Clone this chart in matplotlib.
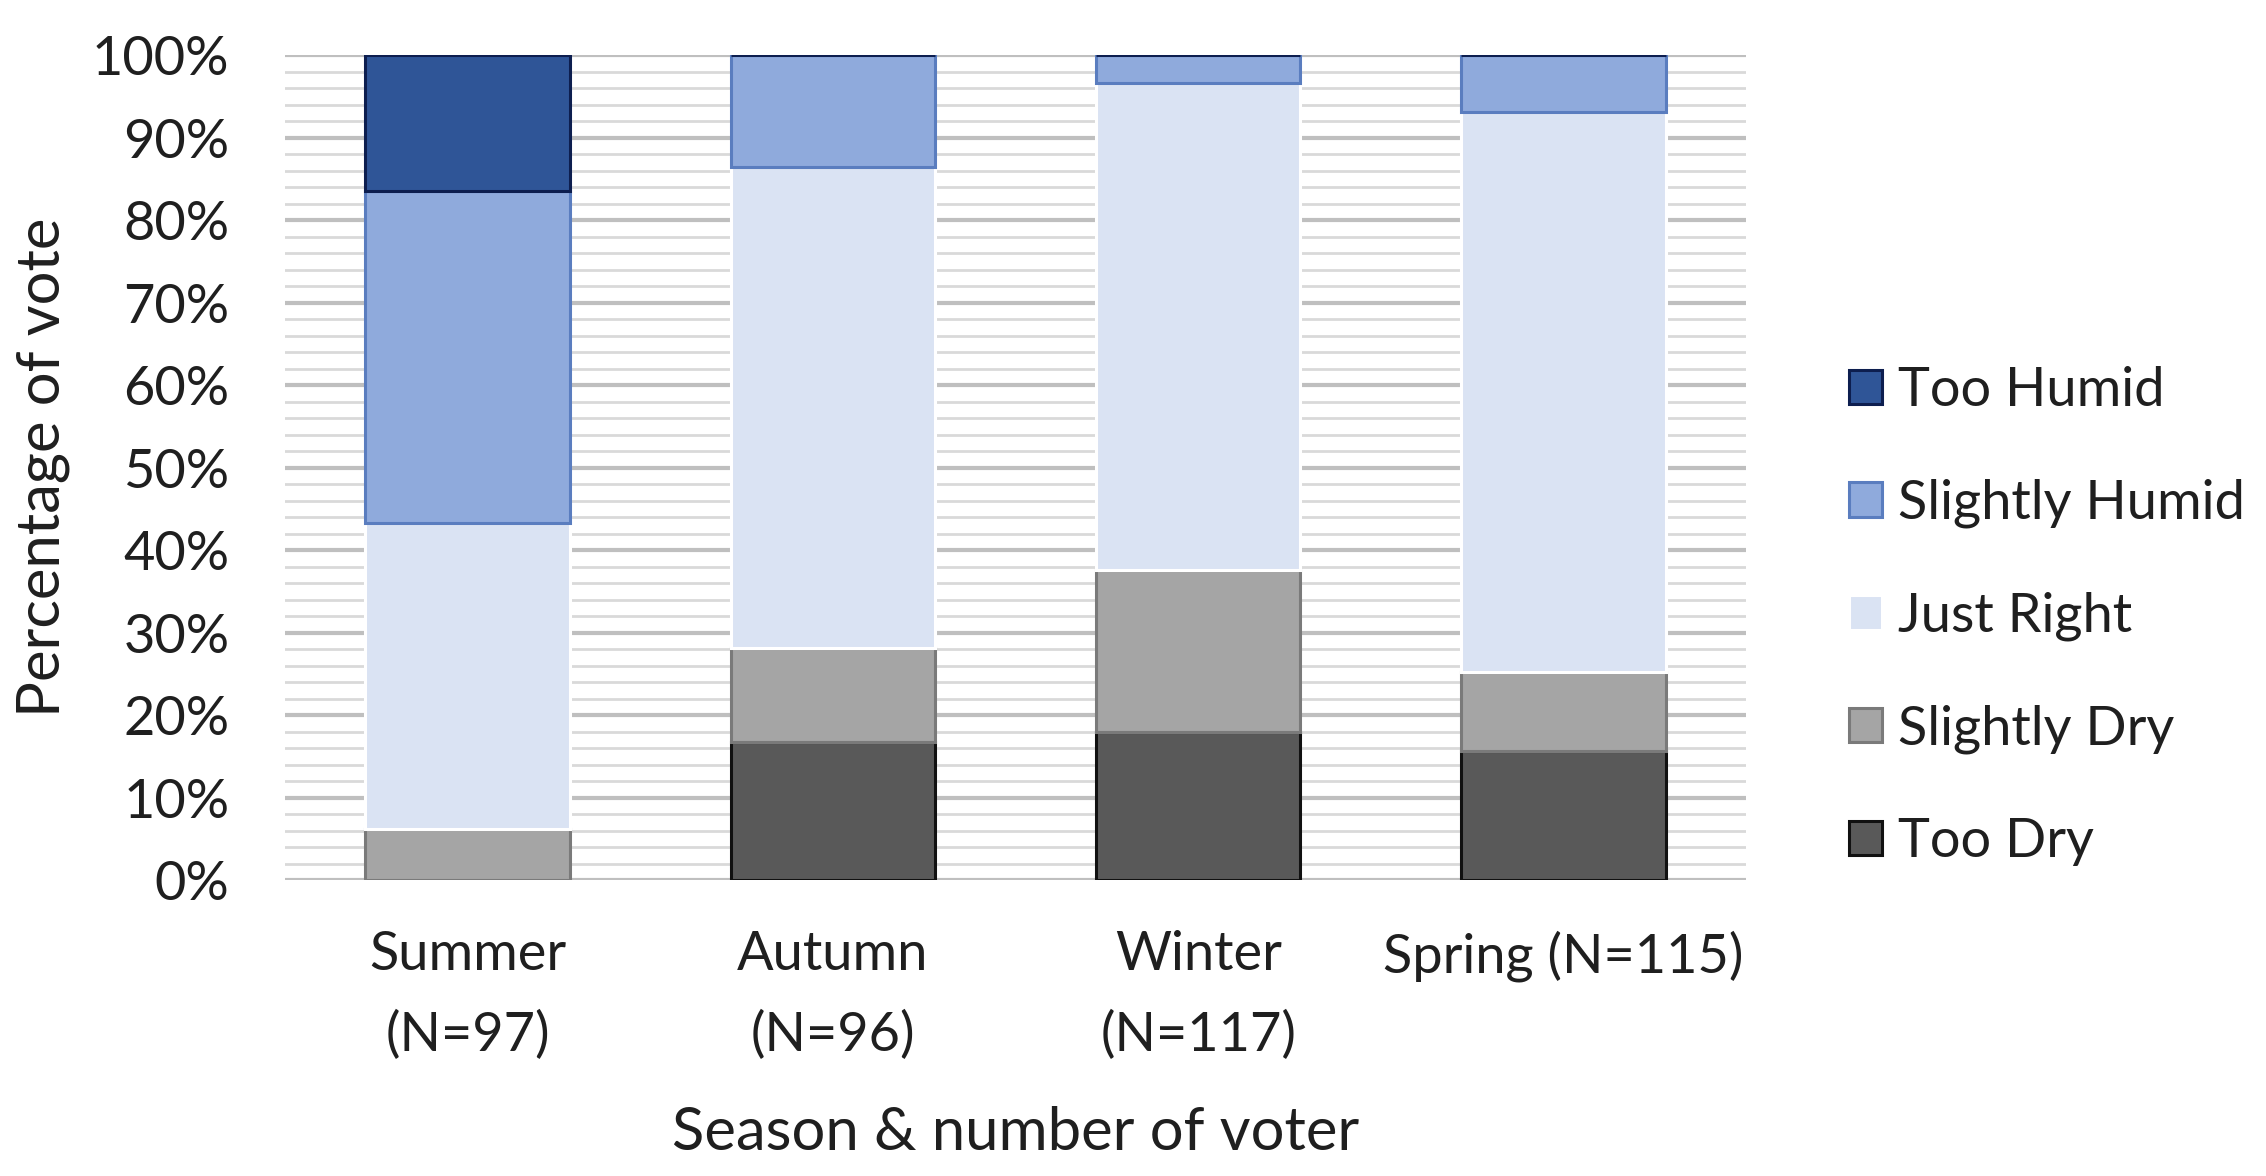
import numpy as np
import matplotlib
matplotlib.use('Agg')
import matplotlib.pyplot as plt
from matplotlib.ticker import MultipleLocator, FuncFormatter

# seasons on the x axis
seasons = ['Summer\n(N=97)', 'Autumn\n(N=96)', 'Winter\n(N=117)', 'Spring (N=115)']

# share of votes per season (%), bottom to top of each stack
too_dry = [0.0, 16.67, 17.95, 15.65]
slightly_dry = [6.19, 11.46, 19.66, 9.57]
just_right = [37.11, 58.33, 58.97, 67.83]
slightly_humid = [40.21, 13.54, 3.42, 6.96]
too_humid = [16.49, 0.0, 0.0, 0.0]

categories = ['Too Dry', 'Slightly Dry', 'Just Right', 'Slightly Humid', 'Too Humid']
series = [too_dry, slightly_dry, just_right, slightly_humid, too_humid]
faces = ['#595959', '#a5a5a5', '#dae3f3', '#8faadc', '#2f5597']
edges = ['#111111', '#7a7a7a', '#ffffff', '#5a7dbf', '#0d1e4f']

plt.rcParams['font.family'] = ['Lato', 'DejaVu Sans']
txt = '#1f1f1f'

fig = plt.figure(figsize=(22.66, 11.76), dpi=100)
ax = fig.add_axes([0.1258, 0.2517, 0.7705 - 0.1258, 0.9532 - 0.2517])

x = np.arange(len(seasons))
bottom = np.zeros(len(seasons))
handles = []
for name, vals, fc, ec in zip(categories, series, faces, edges):
    vals = np.array(vals)
    b = ax.bar(x, vals, width=0.56, bottom=bottom, color=fc, edgecolor=ec,
               linewidth=2.2, label=name, zorder=3)
    handles.append(b)
    bottom += vals

ax.set_xlim(-0.5, 3.5)
ax.set_ylim(0, 100)
ax.yaxis.set_major_locator(MultipleLocator(10))
ax.yaxis.set_minor_locator(MultipleLocator(2))
ax.yaxis.set_major_formatter(FuncFormatter(lambda v, p: '{:.0f}%'.format(v)))
ax.grid(axis='y', which='major', color='#bfbfbf', linewidth=3, zorder=0)
ax.grid(axis='y', which='minor', color='#d9d9d9', linewidth=2, zorder=0)
ax.set_axisbelow(True)
for s in ax.spines.values():
    s.set_visible(False)

ax.set_xticks(x)
ax.set_xticklabels(seasons, fontsize=39, color=txt, linespacing=1.75,
                   va='top')
ax.tick_params(axis='x', length=0, pad=36)
ax.tick_params(axis='y', which='both', length=0, pad=40, labelsize=39,
               labelcolor=txt)

ax.set_xlabel('Season & number of voter', fontsize=43, color=txt, va='center')
ax.xaxis.set_label_coords(0.5, -0.307)
ax.set_ylabel('Percentage of vote', fontsize=43, color=txt, va='center')
ax.yaxis.set_label_coords(-0.1656, 0.5)

leg = fig.legend(handles[::-1], categories[::-1], loc='center left',
                 bbox_to_anchor=(0.816, 0.476), frameon=False, fontsize=39,
                 handlelength=0.6, handleheight=0.6, handletextpad=0.3,
                 labelspacing=1.17, borderpad=0, borderaxespad=0)
for t in leg.get_texts():
    t.set_color(txt)

fig.savefig('out.png', dpi=100)
